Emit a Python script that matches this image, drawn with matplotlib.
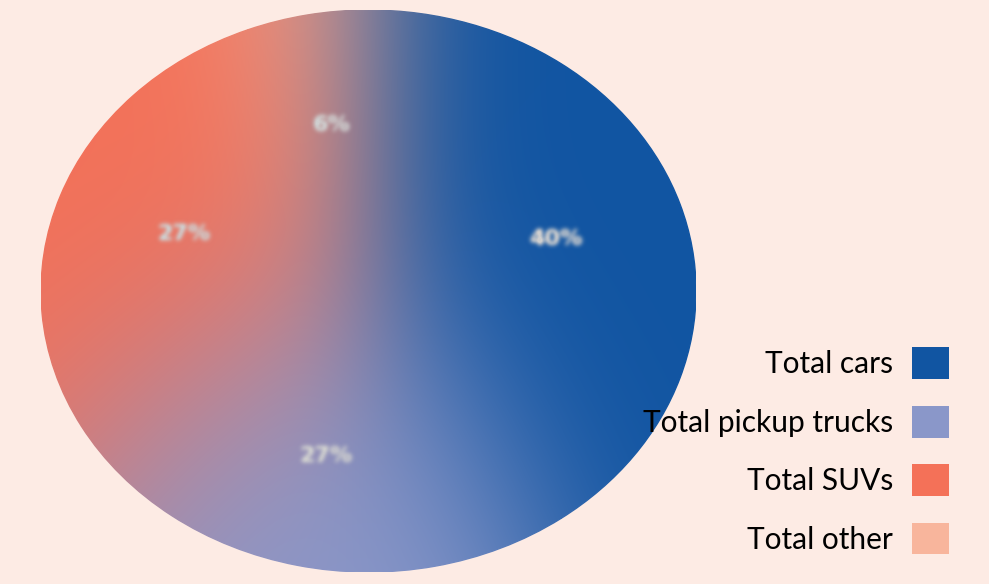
import numpy as np
import matplotlib
matplotlib.use("Agg")
import matplotlib.pyplot as plt
from matplotlib.collections import PatchCollection
from matplotlib.patches import Patch, Wedge

# vehicle mix shares (percent)
categories = ["Total cars", "Total pickup trucks", "Total SUVs", "Total other"]
shares = [40, 27, 27, 6]
colors = ["#1155a2", "#8a97c9", "#f47158", "#f8b59c"]
bg = "#fdebe4"


def gauss_matrix(n, sigma):
    idx = np.arange(n)
    k = np.exp(-0.5 * ((idx[:, None] - idx[None, :]) / sigma) ** 2)
    return k / k.sum(axis=1, keepdims=True)


def soft_fill(sx, sy):
    # smear colours across the filled area but keep its outline crisp
    def f(img, dpi):
        h, w = img.shape[:2]
        kh = gauss_matrix(h, sy * dpi / 100.0)
        kw = gauss_matrix(w, sx * dpi / 100.0)
        a = img[..., 3]
        den = np.maximum(kh @ a @ kw.T, 1e-6)
        out = img.copy()
        for c in range(3):
            out[..., c] = (kh @ (img[..., c] * a) @ kw.T) / den
        return out, 0, 0
    return f


def soft_text(sigma, pad=10):
    def f(img, dpi):
        img = np.pad(img, ((pad, pad), (pad, pad), (0, 0)))
        h, w = img.shape[:2]
        s = sigma * dpi / 100.0
        kh, kw = gauss_matrix(h, s), gauss_matrix(w, s)
        a = img[..., 3]
        ab = kh @ a @ kw.T
        out = np.empty_like(img)
        for c in range(3):
            out[..., c] = (kh @ (img[..., c] * a) @ kw.T) / np.maximum(ab, 1e-6)
        out[..., 3] = np.clip(ab * 1.4, 0, 1)
        return out, -pad, -pad
    return f


fig = plt.figure(figsize=(9.89, 5.84), dpi=100, facecolor=bg)
ax = fig.add_axes([0.0415, 0.0205, 0.6623, 0.9623])

wedges, texts, autotexts = ax.pie(shares, colors=colors, startangle=90,
                                  counterclock=False, autopct="%d%%",
                                  pctdistance=0.6, radius=1)
ax.set_aspect("auto")
ax.set_xlim(-1, 1)
ax.set_ylim(-1, 1)

# redraw the slices as one collection so they can be blended together
flat = [Wedge((0, 0), 1, w.theta1, w.theta2, facecolor=w.get_facecolor(),
              edgecolor=w.get_facecolor(), linewidth=1.0) for w in wedges]
for w in wedges:
    w.remove()
pc = PatchCollection(flat, match_original=True, zorder=1)
ax.add_collection(pc)
pc.set_agg_filter(soft_fill(70, 115))

for t in autotexts:
    t.set(color="#cfcfcf", fontsize=16, fontweight="bold", family="DejaVu Sans",
          zorder=3)
    t.set_agg_filter(soft_text(2.2))

handles = [Patch(facecolor=c, label=l) for c, l in zip(colors, categories)]
fig.legend(handles=handles, loc="upper right", bbox_to_anchor=(0.9596, 0.405),
           bbox_transform=fig.transFigure, frameon=False, markerfirst=False,
           prop={"family": "Lato", "size": 21.5}, handlelength=1.25,
           handleheight=1.25, handletextpad=0.62, labelspacing=0.9,
           borderpad=0, borderaxespad=0)

fig.savefig("out.png", dpi=100, facecolor=bg)
